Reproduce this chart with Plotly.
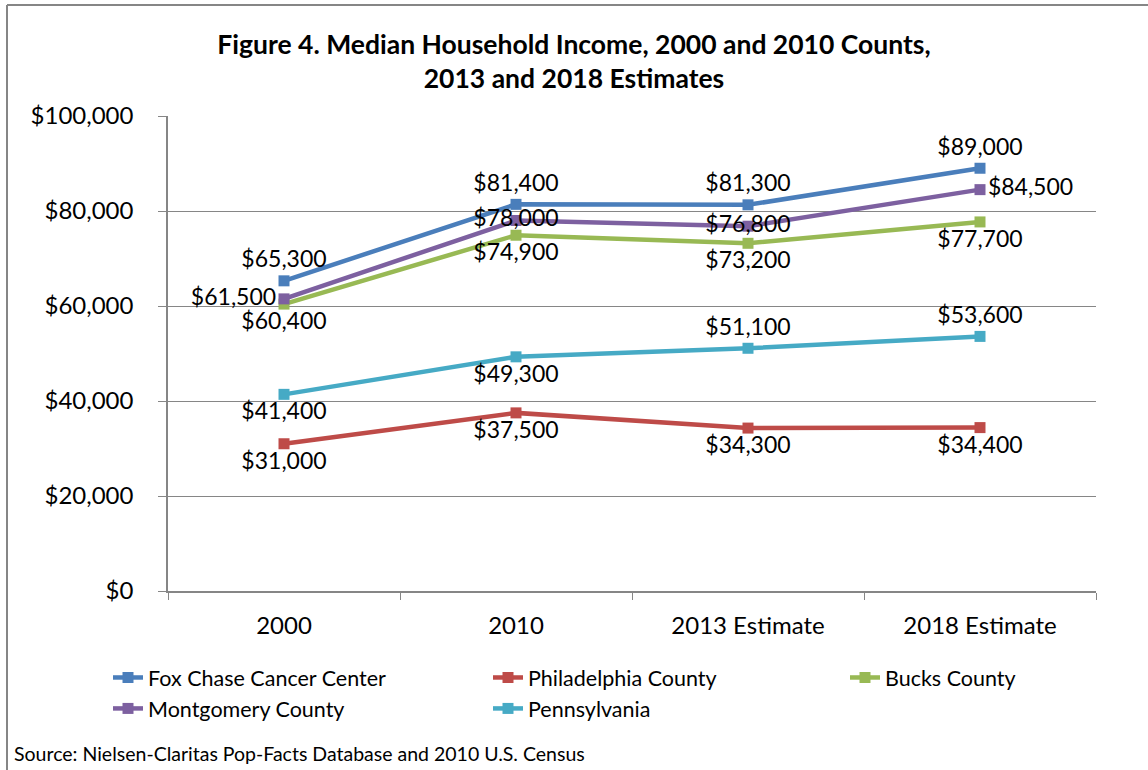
import plotly.graph_objects as go

categories = ["2000", "2010", "2013 Estimate", "2018 Estimate"]

fox_chase = [65300, 81400, 81300, 89000]
philadelphia = [31000, 37500, 34300, 34400]
bucks = [60400, 74900, 73200, 77700]
montgomery = [61500, 78000, 76800, 84500]
pennsylvania = [41400, 49300, 51100, 53600]

FONT = "Lato"

# plot area in pixels: left 168, right 1096, top 116, bottom 591
L, T, W, H = 168, 116, 928, 475


def px(x):
    return (x - L) / W


def py(y):
    return (T + H - y) / H


series = [
    ("Fox Chase Cancer Center", fox_chase, "#4A7EBB", "legend",
     ["top center"] * 4),
    ("Philadelphia County", philadelphia, "#BE4B48", "legend2",
     ["bottom center"] * 4),
    ("Bucks County", bucks, "#98B954", "legend3",
     ["bottom center"] * 4),
    ("Montgomery County", montgomery, "#7D60A0", "legend",
     ["middle left", "middle center", "middle center", "middle right"]),
    ("Pennsylvania", pennsylvania, "#46AAC5", "legend2",
     ["bottom center", "bottom center", "top center", "top center"]),
]

fig = go.Figure()
for name, vals, color, leg, pos in series:
    fig.add_trace(go.Scatter(
        x=categories,
        y=vals,
        name=name,
        legend=leg,
        mode="lines+markers+text",
        line=dict(color=color, width=4.5),
        marker=dict(symbol="square", size=11, color=color),
        texttemplate="$%{y:,.0f}",
        textposition=pos,
        textfont=dict(family=FONT, size=23, color="#000000"),
        cliponaxis=False,
    ))

legend_style = dict(
    orientation="v",
    xanchor="left",
    y=py(657),
    yanchor="top",
    font=dict(family=FONT, size=21.5, color="#000000"),
    tracegroupgap=0,
    bgcolor="rgba(0,0,0,0)",
)

fig.update_layout(
    width=1148,
    height=770,
    paper_bgcolor="white",
    plot_bgcolor="white",
    margin=dict(l=L, r=1148 - L - W, t=T, b=770 - T - H),
    font=dict(family=FONT, size=20, color="#000000"),
    title=dict(
        text="<b>Figure 4. Median Household Income, 2000 and 2010 Counts,</b><br><b>2013 and 2018 Estimates</b>",
        x=0.5,
        xanchor="center",
        y=1 - 54 / 770,
        yanchor="top",
        font=dict(family=FONT, size=26.5, color="#000000"),
    ),
    xaxis=dict(
        type="category",
        range=[-0.5, 3.5],
        tickson="boundaries",
        ticks="outside",
        ticklen=7,
        tickcolor="#868686",
        showline=True,
        linecolor="#868686",
        linewidth=1.5,
        showgrid=False,
        ticklabelstandoff=12,
        tickfont=dict(family=FONT, size=24),
    ),
    yaxis=dict(
        range=[0, 100000],
        dtick=20000,
        tickprefix="$",
        tickformat=",",
        ticks="outside",
        ticklen=8,
        tickcolor="#868686",
        showline=True,
        linecolor="#868686",
        linewidth=1.5,
        showgrid=True,
        gridcolor="#868686",
        gridwidth=1.2,
        zeroline=False,
        ticklabelstandoff=20,
        tickfont=dict(family=FONT, size=24),
    ),
    legend=dict(x=px(108), **legend_style),
    legend2=dict(x=px(488), **legend_style),
    legend3=dict(x=px(845), **legend_style),
)

fig.add_annotation(
    text="Source: Nielsen-Claritas Pop-Facts Database and 2010 U.S. Census",
    xref="paper", yref="paper",
    x=px(12), y=py(753),
    xanchor="left", yanchor="middle",
    showarrow=False,
    font=dict(family=FONT, size=19.5, color="#000000"),
)

# chart border: only top and left edges fall inside the picture
border = dict(color="#868686", width=2)
fig.add_shape(type="line", xref="paper", yref="paper",
              x0=px(7), x1=px(1150), y0=py(5), y1=py(5), line=border)
fig.add_shape(type="line", xref="paper", yref="paper",
              x0=px(7), x1=px(7), y0=py(5), y1=py(772), line=border)

fig.write_html("out.html", config={"displayModeBar": False},
               post_script="document.body.style.margin='0';")
